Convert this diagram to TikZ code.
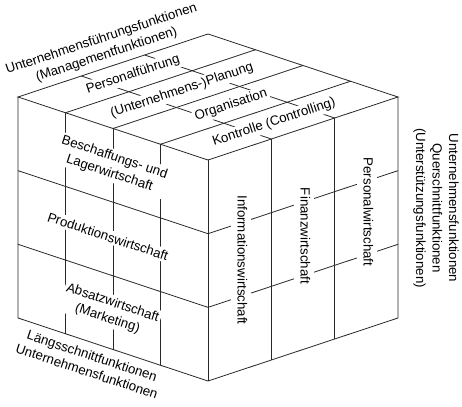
\documentclass[tikz,border=0pt]{standalone}
\usepackage{fontspec}
\setmainfont{Liberation Sans}
\usepackage{tikz}
\usepackage{xcolor}
\definecolor{cubegray}{RGB}{40,40,40}
\tikzstyle{cubeline}=[line width=0.8pt, color=cubegray]
\tikzstyle{flabel}=[font=\fontsize{13.3}{16.5}\selectfont, align=center,
  fill=white, inner sep=2pt, text=black]
\tikzstyle{toplabel}=[flabel, rotate=18.35]
\tikzstyle{leftlabel}=[flabel, rotate=-18.35]
\tikzstyle{rightlabel}=[flabel, rotate=-90, text height=10pt,
  text depth=3.3pt, inner sep=3.3pt]
\tikzstyle{outlabel}=[font=\fontsize{13.3}{16.5}\selectfont, align=center,
  inner sep=1pt, text=black]

\begin{document}
\begin{tikzpicture}[x=1pt, y=-1pt]
  \useasboundingbox (0,0) rectangle (462,406);
  % corners of the cube
  \coordinate (tl) at (18,97);
  \coordinate (tb) at (208,34);
  \coordinate (tr) at (398,97);
  \coordinate (tf) at (208,160);
  \coordinate (bl) at (18,318);
  \coordinate (bf) at (208,381);
  \coordinate (br) at (398,318);
  \draw[cubeline] (tl) -- (tb) -- (tr) -- (tf) -- cycle;
  \draw[cubeline] (tl) -- (bl) -- (bf) -- (br) -- (tr);
  \draw[cubeline] (tf) -- (bf);
  % top face
  \draw[cubeline] (65.5,112.75) -- (255.5,49.75);
  \draw[cubeline] (113,128.5) -- (303,65.5);
  \draw[cubeline] (160.5,144.25) -- (350.5,81.25);
  \draw[cubeline] (81.33,76) -- (271.33,139);
  \draw[cubeline] (144.67,55) -- (334.67,118);
  % left face
  \draw[cubeline] (65.5,112.75) -- (65.5,333.75);
  \draw[cubeline] (113,128.5) -- (113,349.5);
  \draw[cubeline] (160.5,144.25) -- (160.5,365.25);
  \draw[cubeline] (18,170.67) -- (208,233.67);
  \draw[cubeline] (18,244.33) -- (208,307.33);
  % right face
  \draw[cubeline] (271.33,139) -- (271.33,360);
  \draw[cubeline] (334.67,118) -- (334.67,339);
  \draw[cubeline] (208,233.67) -- (398,170.67);
  \draw[cubeline] (208,307.33) -- (398,244.33);

  % management functions
  \node[outlabel, rotate=18.35] (mgmt) at (104,47)
    {Unternehmensführungsfunktionen\\(Managementfunktionen)};
  \node[toplabel] (persf) at (133,74.5) {Personalführung};
  \node[toplabel] (plan) at (182,90.5) {(Unternehmens-)Planung};
  \node[toplabel] (org) at (231,105) {Organisation};
  \node[toplabel] (kontr) at (274,122.3) {Kontrolle (Controlling)};
  % longitudinal functions
  \node[leftlabel] (beschaff) at (112,165.5)
    {Beschaffungs- und\\Lagerwirtschaft};
  \node[leftlabel] (prod) at (108,236.5) {Produktionswirtschaft};
  \node[leftlabel] (absatz) at (110,311) {Absatzwirtschaft\\(Marketing)};
  \node[outlabel, rotate=-18.35] (laengs) at (89.5,363.5)
    {Längsschnittfunktionen\\Unternehmensfunktionen};
  % cross-section functions
  \node[rightlabel] (info) at (241,260) {Informationswirtschaft};
  \node[rightlabel] (finanz) at (304,236) {Finanzwirtschaft};
  \node[rightlabel] (personal) at (367,212) {Personalwirtschaft};
  \node[outlabel, rotate=-90] (quer) at (436,208)
    {Unternehmensfunktionen\\Querschnittfunktionen\\(Unterstützungsfunktionen)};
\end{tikzpicture}
\end{document}
